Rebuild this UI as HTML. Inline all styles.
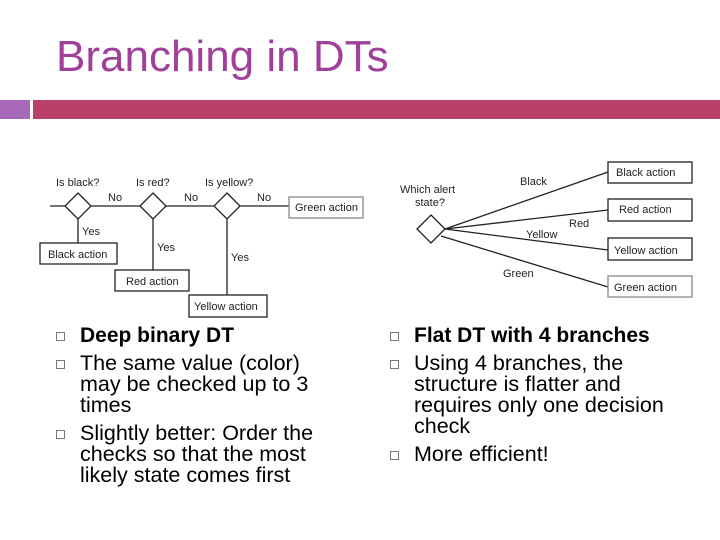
<!DOCTYPE html>
<html><head><style>
body{margin:0;width:720px;height:540px;background:#fff;position:relative;overflow:hidden;font-family:"Liberation Sans",sans-serif}
.t{position:absolute;white-space:nowrap;line-height:1}
.b{position:absolute;width:7px;height:7px;border:1px solid #777}
.l{position:absolute;font-size:21.5px;color:#000;white-space:nowrap;line-height:21px}
</style></head><body>
<div class="t" style="left:56px;top:35px;font-size:44px;color:#a0409a">Branching in DTs</div>
<div style="position:absolute;left:0;top:100px;width:30px;height:19px;background:#a868b8"></div>
<div style="position:absolute;left:33px;top:100px;width:687px;height:19px;background:#b83f6a"></div>
<svg width="720" height="540" style="position:absolute;left:0;top:0" font-family="Liberation Sans, sans-serif" font-size="11" fill="#222">
<g stroke="#222" stroke-width="1.3" fill="none">
<line x1="50" y1="206" x2="289" y2="206"/>
<polygon points="78,193 91,206 78,219 65,206" fill="#fff"/>
<polygon points="153,193 166,206 153,219 140,206" fill="#fff"/>
<polygon points="227,193 240,206 227,219 214,206" fill="#fff"/>
<line x1="78" y1="219" x2="78" y2="243"/>
<line x1="153" y1="219" x2="153" y2="270"/>
<line x1="227" y1="219" x2="227" y2="295"/>
<rect x="289" y="197" width="74" height="21" stroke="#888"/>
<rect x="40" y="243" width="77" height="21"/>
<rect x="115" y="270" width="74" height="21"/>
<rect x="189" y="295" width="78" height="22"/>
<line x1="445" y1="229" x2="608" y2="172"/>
<line x1="445" y1="229" x2="608" y2="210"/>
<line x1="445" y1="229" x2="608" y2="250"/>
<line x1="441" y1="236" x2="608" y2="287"/>
<polygon points="431,215 445,229 431,243 417,229" fill="#fff"/>
<rect x="608" y="162" width="84" height="21"/>
<rect x="608" y="199" width="84" height="22"/>
<rect x="608" y="238" width="84" height="22"/>
<rect x="608" y="276" width="84" height="21" stroke="#888"/>
</g>
<text x="56" y="186">Is black?</text>
<text x="136" y="186">Is red?</text>
<text x="205" y="186">Is yellow?</text>
<text x="108" y="201">No</text>
<text x="184" y="201">No</text>
<text x="257" y="201">No</text>
<text x="82" y="235">Yes</text>
<text x="157" y="251">Yes</text>
<text x="231" y="261">Yes</text>
<text x="295" y="211">Green action</text>
<text x="48" y="258">Black action</text>
<text x="126" y="285">Red action</text>
<text x="194" y="310">Yellow action</text>
<text x="400" y="193">Which alert</text>
<text x="415" y="206">state?</text>
<text x="520" y="185">Black</text>
<text x="569" y="227">Red</text>
<text x="526" y="238">Yellow</text>
<text x="503" y="277">Green</text>
<text x="616" y="176">Black action</text>
<text x="619" y="213">Red action</text>
<text x="614" y="254">Yellow action</text>
<text x="614" y="291">Green action</text>
</svg>
<div class="b" style="left:56px;top:332px"></div>
<div class="b" style="left:56px;top:360px"></div>
<div class="b" style="left:56px;top:430px"></div>
<div class="l" style="left:80px;top:325px;font-weight:bold;font-size:21px">Deep binary DT</div>
<div class="l" style="left:80px;top:353px">The same value (color)<br>may be checked up to 3<br>times</div>
<div class="l" style="left:80px;top:423px">Slightly better: Order the<br>checks so that the most<br>likely state comes first</div>
<div class="b" style="left:390px;top:332px"></div>
<div class="b" style="left:390px;top:360px"></div>
<div class="b" style="left:390px;top:451px"></div>
<div class="l" style="left:414px;top:325px;font-weight:bold;font-size:21px">Flat DT with 4 branches</div>
<div class="l" style="left:414px;top:353px">Using 4 branches, the<br>structure is flatter and<br>requires only one decision<br>check</div>
<div class="l" style="left:414px;top:444px">More efficient!</div>
</body></html>
